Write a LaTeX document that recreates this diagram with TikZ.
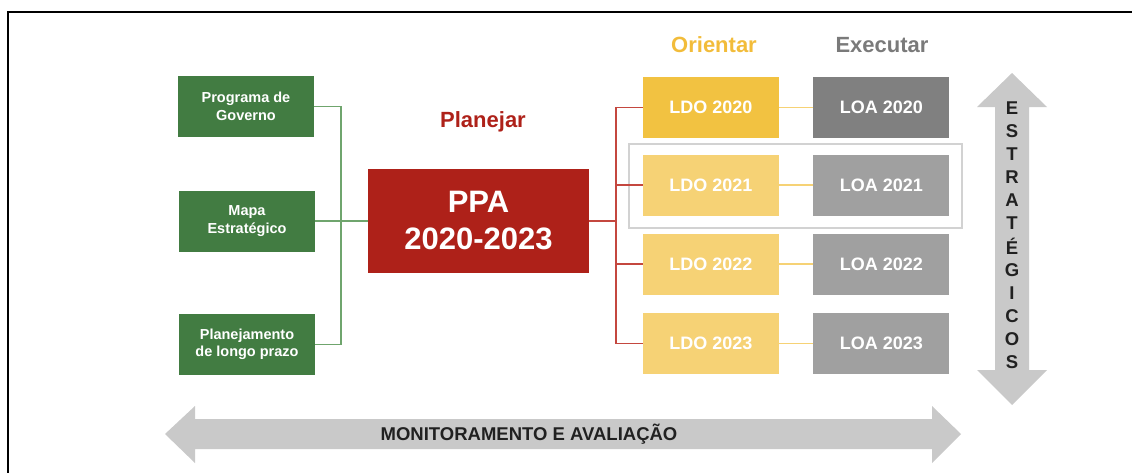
\documentclass[tikz,border=0pt]{standalone}
\usepackage{fontspec}
\setmainfont{Liberation Sans}
\usetikzlibrary{positioning}
\definecolor{govgreen}{HTML}{427C42}
\definecolor{govline}{HTML}{6FA56D}
\definecolor{ppared}{HTML}{AE2119}
\definecolor{redline}{HTML}{C4473F}
\definecolor{ldodark}{HTML}{F2C241}
\definecolor{ldolight}{HTML}{F6D275}
\definecolor{orient}{HTML}{F2BC3A}
\definecolor{loadark}{HTML}{808080}
\definecolor{loalight}{HTML}{A0A0A0}
\definecolor{execgray}{HTML}{7A7A7A}
\definecolor{arrowgray}{HTML}{C9C9C9}
\definecolor{hlgray}{HTML}{D2D2D2}

\begin{document}
\begin{tikzpicture}[x=1pt,y=-1pt,
      every node/.style={inner sep=0pt,align=center,font=\bfseries},
      greenbox/.style={fill=govgreen,text=white,minimum width=136pt,minimum height=61pt,
        font=\bfseries\fontsize{14.5}{17.5}\selectfont},
      ppabox/.style={fill=ppared,text=white,minimum width=221pt,minimum height=104pt,
        font=\bfseries\fontsize{31}{37}\selectfont},
      yearbox/.style={text=white,minimum width=136pt,minimum height=61pt,
        font=\bfseries\fontsize{18}{20}\selectfont},
      head/.style={font=\bfseries\fontsize{22}{24}\selectfont},
      link/.style={line width=1.1pt},
      bigarrow/.style={fill=arrowgray},
      letter/.style={text=black!87,font=\bfseries\fontsize{18.5}{20}\selectfont}]
    \useasboundingbox (0,0) rectangle (1132,472);
    \draw[line width=2.5pt] (8,480) -- (8,12) -- (1140,12);

    \node[greenbox] (gov) at (246,106.5) {Programa de\\Governo};
    \node[greenbox] (mapa) at (247,221) {Mapa\\Estratégico};
    \node[greenbox] (longo) at (247,344.5) {Planejamento\\de longo prazo};
    \node[ppabox] (ppa) at (478.5,221) {PPA\\2020-2023};
    \node[head,text=ppared] (planejar) at (483,122) {Planejar};

    \coordinate (gj) at (341,221);
    \draw[link,govline] (gov.east) -| (gj) |- (longo.east);
    \draw[link,govline] (mapa.east) -- (ppa.west);

    \node[head,text=orient] (orientar) at (714,45) {Orientar};
    \node[head,text=execgray] (executar) at (882,45) {Executar};

    \draw[hlgray,line width=2pt] (629,144) rectangle (962,228);

    \coordinate (rj) at (616,221);
    \draw[link,redline] (ppa.east) -- (rj);
    \foreach \yr/\yy/\lc/\gc in {2020/107.5/ldodark/loadark,2021/185/ldolight/loalight,
        2022/264/ldolight/loalight,2023/343.5/ldolight/loalight}{
        \node[yearbox,fill=\lc] (ldo\yr) at (711,\yy) {LDO \yr};
        \node[yearbox,fill=\gc,right=34pt of ldo\yr] (loa\yr) {LOA \yr};
        \draw[link,redline] (rj) |- (ldo\yr.west);
        \draw[link,ldolight] (ldo\yr.east) -- (loa\yr.west);
    }

    % estrategicos
    \fill[bigarrow] (1012,73) -- (1047,107) -- (1029,107) -- (1029,370) -- (1047,370)
        -- (1012,405) -- (977,370) -- (995,370) -- (995,107) -- (977,107) -- cycle;
    \foreach \l [count=\i] in {E,S,T,R,A,T,É,G,I,C,O,S}
        \node[letter] (let\i) at (1012,{108+(\i-1)*23.1}) {\l};

    % monitoramento
    \fill[bigarrow] (165,434) -- (195,406) -- (195,419) -- (932,419) -- (932,406)
        -- (961,434) -- (932,463) -- (932,449) -- (195,449) -- (195,463) -- cycle;
    \node[letter] (monit) at (529,434) {MONITORAMENTO E AVALIAÇÃO};
\end{tikzpicture}
\end{document}
